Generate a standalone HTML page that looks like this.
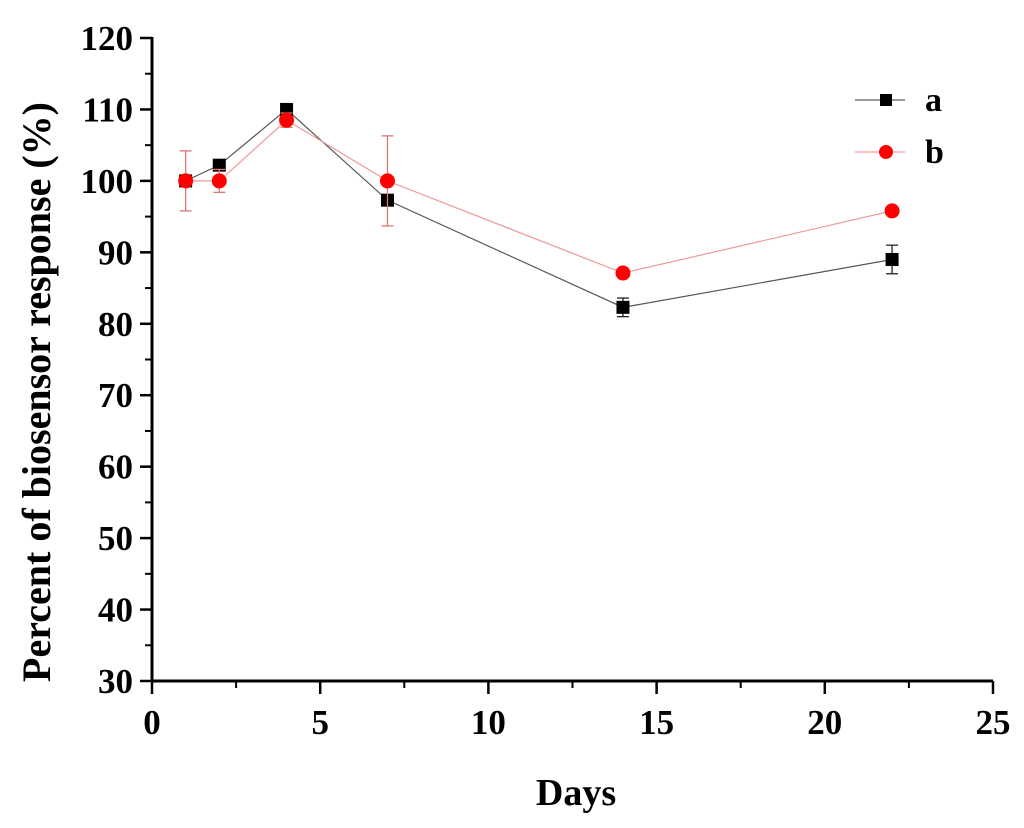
<!DOCTYPE html>
<html><head><meta charset="utf-8"><style>
body{margin:0;background:#fff}
svg text{font-family:"Liberation Serif",serif;font-weight:bold}
</style></head><body>
<svg id="chart" width="1024" height="823" xmlns="http://www.w3.org/2000/svg">
<g id="axes"></g><g id="series"></g>
<g>
<line x1="855" y1="100" x2="905" y2="100" stroke="#333" stroke-width="1"/>
<rect x="880" y="94" width="12" height="12" fill="#000"/>
<text x="925" y="111" font-size="34">a</text>
<line x1="855" y1="152" x2="905" y2="152" stroke="#e88" stroke-width="1"/>
<circle cx="886" cy="152" r="7" fill="#f00"/>
<text x="925" y="163" font-size="34">b</text>
</g>
<text x="576" y="805" font-size="38" text-anchor="middle">Days</text>
<text transform="translate(50,392) rotate(-90)" font-size="40" text-anchor="middle">Percent of biosensor response (%)</text>
</svg>
<script>
const days=[1,2,4,7,14,22];
const seriesA=[100,102.2,110,97.3,82.3,89];
const errA=[0.8,0.5,0.5,0.5,1.3,2];
const seriesB=[100,100,108.5,100,87.1,95.8];
const errB=[4.2,1.6,1,6.3,0.5,0.5];
const xTicks=[0,5,10,15,20,25];
const yTicks=[30,40,50,60,70,80,90,100,110,120];
const NS="http://www.w3.org/2000/svg";
const X=v=>152+(v/25)*841, Y=v=>681-(v-30)/90*643;
function mk(t,a,p){const e=document.createElementNS(NS,t);for(const k in a)e.setAttribute(k,a[k]);p.appendChild(e);return e;}
const ax=document.getElementById('axes');
const yl=mk('line',{x1:152,y1:37,x2:152,y2:682,stroke:'#000','stroke-width':3},ax);


const xl=mk('line',{x1:151,y1:681,x2:993,y2:681,stroke:'#000','stroke-width':3},ax);


yTicks.forEach((v,i)=>{mk('line',{x1:140,y1:Y(v),x2:152,y2:Y(v),stroke:'#000','stroke-width':2.5},ax);
 if(i<yTicks.length-1)mk('line',{x1:145,y1:Y(v+5),x2:152,y2:Y(v+5),stroke:'#000','stroke-width':2},ax);
 const t=mk('text',{x:133,y:Y(v)+12,'font-size':35,'text-anchor':'end'},ax);t.textContent=v;
 
 });
xTicks.forEach((v,i)=>{mk('line',{x1:X(v),y1:681,x2:X(v),y2:694,stroke:'#000','stroke-width':2.5},ax);
 if(i<xTicks.length-1)mk('line',{x1:X(v+2.5),y1:681,x2:X(v+2.5),y2:688,stroke:'#000','stroke-width':2},ax);
 const t=mk('text',{x:X(v),y:734,'font-size':35,'text-anchor':'middle'},ax);t.textContent=v;
 
 });
const sg=document.getElementById('series');
function draw(vals,errs,line,ec,name,sq){
 const g=mk('g',{},sg);
 
 
 mk('polyline',{points:days.map((d,i)=>X(d)+','+Y(vals[i])).join(' '),fill:'none',stroke:line,'stroke-width':1.2},g);
 days.forEach((d,i)=>{const x=X(d),y1=Y(vals[i]+errs[i]),y2=Y(vals[i]-errs[i]);
  mk('line',{x1:x,y1:y1,x2:x,y2:y2,stroke:ec,'stroke-width':1.3},g);
  mk('line',{x1:x-6,y1:y1,x2:x+6,y2:y1,stroke:ec,'stroke-width':1.3},g);
  mk('line',{x1:x-6,y1:y2,x2:x+6,y2:y2,stroke:ec,'stroke-width':1.3},g);
  let m;
  if(sq)m=mk('rect',{x:x-6.5,y:Y(vals[i])-6.5,width:13,height:13,fill:'#000'},g);
  else m=mk('circle',{cx:x,cy:Y(vals[i]),r:7.5,fill:'#f00'},g);
  
  });
}
draw(seriesA,errA,'#555','#222','a',true);
draw(seriesB,errB,'#e99','#d77','b',false);
</script>
</body></html>
